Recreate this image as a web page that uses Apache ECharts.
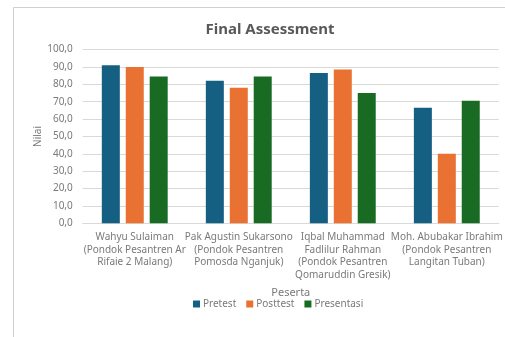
<!DOCTYPE html>
<html>
<head>
<meta charset="utf-8">
<script src="https://cdn.jsdelivr.net/npm/echarts@6/dist/echarts.min.js"></script>
<style>
  html, body { margin: 0; padding: 0; background: #fff; }
  #chart { width: 505px; height: 337px; }
</style>
</head>
<body>
<div id="chart"></div>
<script>
// data
const categories = [
  'Wahyu Sulaiman\n(Pondok Pesantren Ar\nRifaie 2 Malang)',
  'Pak Agustin Sukarsono\n(Pondok Pesantren\nPomosda Nganjuk)',
  'Iqbal Muhammad\nFadlilur Rahman\n(Pondok Pesantren\nQomaruddin Gresik)',
  'Moh. Abubakar Ibrahim\n(Pondok Pesantren\nLangitan Tuban)'
]
const pretest = [91, 82, 86.5, 66.5]
const posttest = [90, 78, 88.5, 40]
const presentasi = [84.5, 84.5, 75, 70.5]
const seriesNames = ['Pretest', 'Posttest', 'Presentasi']

const gray = '#595959'
const lightGray = '#7a7a7a'
const fontFam = '"Noto Sans", sans-serif'

const chart = echarts.init(document.getElementById('chart'))

const mkBar = (name, data, color) => ({
  name: name,
  type: 'bar',
  data: data,
  barWidth: 18,
  barGap: '33%',
  itemStyle: { color: color }
})

const option = {
  backgroundColor: '#fff',
  animation: false,
  textStyle: { fontFamily: fontFam },
  title: {
    text: 'Final Assessment',
    left: 265,
    top: 17,
    textAlign: 'center',
    textStyle: { color: gray, fontSize: 15, fontWeight: 'bold', fontFamily: fontFam }
  },
  graphic: [{
    type: 'rect',
    shape: { x: 13.5, y: 7.5, width: 700, height: 500 },
    style: { fill: 'none', stroke: '#d0d0d0', lineWidth: 1 },
    silent: true
  }],
  grid: { left: 82.75, right: 0, top: 49.6, bottom: 113.7 },
  legend: {
    data: seriesNames,
    left: 188,
    top: 294,
    icon: 'rect',
    itemWidth: 7,
    itemHeight: 7,
    itemGap: 10,
    textStyle: { color: lightGray, fontSize: 10, padding: [0, 0, 0, -2] }
  },
  xAxis: {
    type: 'category',
    data: categories,
    name: 'Peserta',
    nameLocation: 'middle',
    nameGap: 64,
    nameMoveOverlap: false,
    nameTextStyle: { color: lightGray, fontSize: 11 },
    axisLine: { lineStyle: { color: '#d9d9d9' } },
    axisTick: { show: false },
    axisLabel: {
      color: lightGray,
      fontSize: 10,
      lineHeight: 12.5,
      margin: 8,
      interval: 0
    }
  },
  yAxis: {
    type: 'value',
    min: 0,
    max: 100,
    interval: 10,
    name: 'Nilai',
    nameLocation: 'middle',
    nameGap: 40,
    nameMoveOverlap: false,
    nameTextStyle: { color: lightGray, fontSize: 10 },
    axisLine: { show: false },
    axisTick: { show: false },
    splitLine: { lineStyle: { color: '#d9d9d9' } },
    axisLabel: {
      color: lightGray,
      fontSize: 10,
      margin: 10,
      formatter: v => v.toFixed(1).replace('.', ',')
    }
  },
  series: [
    mkBar(seriesNames[0], pretest, '#156082'),
    mkBar(seriesNames[1], posttest, '#E97132'),
    mkBar(seriesNames[2], presentasi, '#196B24')
  ]
}

option && chart.setOption(option)
</script>
</body>
</html>
